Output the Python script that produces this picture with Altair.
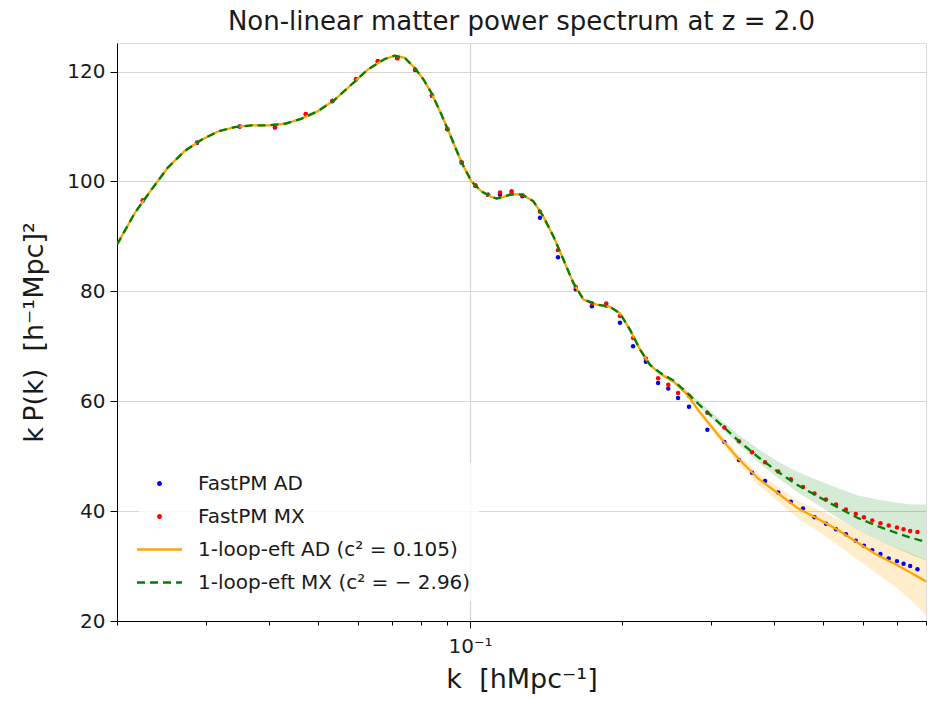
import altair as alt
import pandas as pd

# ---------------- data ----------------
K_THEORY = [0.0200, 0.0217, 0.0234, 0.0252, 0.0272, 0.0294, 0.0317, 0.0342, 0.0369, 0.0398,
            0.0430, 0.0463, 0.0500, 0.0540, 0.0582, 0.0628, 0.0678, 0.0710, 0.0743, 0.0778,
            0.0810, 0.0839, 0.0878, 0.0919, 0.0962, 0.1007, 0.1053, 0.1103, 0.1130, 0.1165,
            0.1201, 0.1240, 0.1275, 0.1335, 0.1398, 0.1463, 0.1531, 0.1603, 0.1678, 0.1783,
            0.1893, 0.1982, 0.2075, 0.2172, 0.2273, 0.2380, 0.2527, 0.2687, 0.2842, 0.3110,
            0.3404, 0.3725, 0.4078, 0.4462, 0.4884, 0.5345, 0.5850, 0.6403, 0.7008, 0.7500,
            0.8000]
PK_EFT_AD = [88.5, 94.3, 98.5, 102.5, 105.5, 107.6, 109.1, 109.9, 110.2, 110.2,
             110.5, 111.4, 112.8, 114.9, 117.6, 120.4, 122.3, 122.9, 122.5, 120.6,
             118.5, 116.1, 112.2, 107.9, 103.5, 100.0, 98.2, 97.2, 96.9, 97.2,
             97.6, 97.7, 97.5, 96.4, 93.6, 90.0, 85.8, 81.5, 78.5, 77.6,
             77.2, 76.0, 73.0, 69.4, 66.6, 65.0, 63.6, 61.3, 58.2, 53.7,
             49.5, 45.9, 43.2, 40.5, 38.6, 36.6, 34.3, 32.0, 30.2, 28.7,
             27.2]
PK_EFT_MX = [88.5, 94.3, 98.5, 102.5, 105.5, 107.6, 109.1, 109.9, 110.2, 110.2,
             110.5, 111.4, 112.8, 114.9, 117.6, 120.4, 122.3, 122.9, 122.5, 120.6,
             118.5, 116.1, 112.2, 107.9, 103.5, 100.0, 98.2, 97.2, 96.9, 97.2,
             97.6, 97.7, 97.5, 96.4, 93.6, 90.0, 85.8, 81.5, 78.5, 77.6,
             77.2, 76.0, 73.0, 69.4, 66.6, 65.2, 63.8, 61.6, 59.4, 56.1,
             52.8, 49.8, 47.1, 44.7, 42.7, 40.7, 38.8, 37.3, 36.0, 35.1,
             34.4]

K_BAND = [0.2380, 0.2527, 0.2687, 0.2842, 0.3110, 0.3404, 0.3725, 0.4078,
          0.4462, 0.4884, 0.5345, 0.5850, 0.6403, 0.7008, 0.7500, 0.8000]
AD_LO = [64.9, 63.4, 61.0, 57.7, 53.0, 48.6, 44.7, 41.7, 38.7, 36.4, 33.9, 31.2, 28.6, 26.0, 23.6, 21.0]
AD_HI = [65.1, 63.8, 61.6, 58.6, 54.3, 50.3, 46.9, 44.4, 41.9, 40.3, 38.6, 36.7, 34.8, 33.4, 32.3, 31.2]
MX_LO = [65.1, 63.6, 61.3, 59.0, 55.6, 52.1, 48.9, 46.0, 43.4, 41.1, 38.8, 36.6, 34.8, 33.2, 32.0, 31.0]
MX_HI = [65.3, 64.0, 62.0, 60.0, 56.9, 53.9, 51.3, 49.0, 47.1, 45.6, 44.2, 42.9, 42.1, 41.5, 41.2, 41.2]

K_DOTS = [0.0225, 0.0288, 0.0350, 0.0411, 0.0473, 0.0534, 0.0595, 0.0657, 0.0718, 0.0779,
          0.0841, 0.0902, 0.0963, 0.1025, 0.1086, 0.1147, 0.1209, 0.1270, 0.1376, 0.1494,
          0.1620, 0.1744, 0.1862, 0.1982, 0.2104, 0.2230, 0.2358, 0.2470, 0.2583,
          0.2715, 0.2952, 0.3190, 0.3410, 0.3620, 0.3840, 0.4078, 0.4319, 0.4566, 0.4812,
          0.5070, 0.5307, 0.5552, 0.5808, 0.6028, 0.6261, 0.6500, 0.6750, 0.7008, 0.7222,
          0.7443, 0.7694]
PK_FASTPM_AD = [96.5, 107.0, 110.0, 109.8, 112.2, 114.6, 118.6, 121.9, 122.5, 120.3,
                115.6, 109.5, 103.4, 99.2, 97.6, 97.6, 97.8, 97.3, 93.4, 86.2,
                80.4, 77.3, 77.4, 74.3, 70.0, 67.2, 63.3, 62.3, 60.6,
                59.0, 54.8, 52.6, 49.3, 47.0, 45.5, 43.4, 41.7, 40.5, 38.9,
                37.7, 36.7, 35.8, 34.6, 33.7, 32.9, 32.2, 31.4, 30.9, 30.4,
                30.0, 29.4]
PK_FASTPM_MX = [96.6, 107.1, 110.0, 109.9, 112.3, 114.7, 118.6, 121.9, 122.4, 120.4,
                115.7, 109.6, 103.5, 99.3, 97.6, 98.0, 98.2, 97.5, 94.5, 87.5,
                80.8, 77.8, 77.8, 75.5, 71.5, 67.8, 64.2, 63.0, 61.5,
                61.0, 57.9, 55.2, 52.7, 50.7, 48.9, 47.2, 45.8, 44.4, 43.2,
                42.1, 41.2, 40.3, 39.5, 38.9, 38.3, 37.8, 37.4, 37.0, 36.7,
                36.4, 36.2]

X_TICKS = [0.02, 0.03, 0.04, 0.05, 0.06, 0.07, 0.08, 0.09, 0.1,
           0.2, 0.3, 0.4, 0.5, 0.6, 0.7, 0.8]
Y_TICKS = [20, 40, 60, 80, 100, 120]
SERIES = ["FastPM AD", "FastPM MX", "1-loop-eft AD (c² = 0.105)", "1-loop-eft MX (c² = − 2.96)"]
COLORS = ["#0000ff", "#ff0000", "#ffa500", "#008000"]

FONT = "DejaVu Sans"
TEXT = "#1a1a1a"

# ---------------- tables ----------------
theory = pd.DataFrame({"k": K_THEORY, "ad": PK_EFT_AD, "mx": PK_EFT_MX})
band = pd.DataFrame({"k": K_BAND, "ad_lo": AD_LO, "ad_hi": AD_HI, "mx_lo": MX_LO, "mx_hi": MX_HI})
dots = pd.DataFrame({"k": K_DOTS, "ad": PK_FASTPM_AD, "mx": PK_FASTPM_MX})
leg = pd.DataFrame({"series": SERIES})

x_scale = alt.Scale(type="log", domain=[0.02, 0.8], nice=False)
y_scale = alt.Scale(domain=[20, 125.2], nice=False, zero=False)

x_axis = alt.Axis(
    values=X_TICKS,
    labelExpr="datum.value == 0.1 ? '10⁻¹' : ''",
    labelOverlap=False,
    labelFont=FONT, labelFontSize=20, labelColor=TEXT, labelPadding=8,
    title="k\u00a0\u00a0[hMpc⁻¹]", titleFont=FONT, titleFontSize=27, titleFontWeight="normal",
    titleColor=TEXT, titlePadding=10,
    grid=True, gridColor="#d6d6d6", gridWidth=1.2,
    gridOpacity={"condition": {"test": "datum.value == 0.1", "value": 1}, "value": 0},
    tickSize={"condition": {"test": "datum.value == 0.1", "value": 7}, "value": 4},
    tickColor="black", domainColor="black",
)
y_axis = alt.Axis(
    values=Y_TICKS,
    labelFont=FONT, labelFontSize=20, labelColor=TEXT, labelPadding=5,
    title="k\u2009P(k)\u00a0\u00a0[h⁻¹Mpc]²", titleFont=FONT, titleFontSize=27, titleFontWeight="normal",
    titleColor=TEXT, titlePadding=18,
    grid=True, gridColor="#d6d6d6", gridWidth=1.2,
    tickSize=7, tickColor="black", domainColor="black",
)

X = alt.X("k:Q", scale=x_scale, axis=x_axis)

band_ad = alt.Chart(band).mark_area(color="#ffa500", opacity=0.2, clip=True).encode(
    x=X, y=alt.Y("ad_lo:Q", scale=y_scale, axis=y_axis), y2="ad_hi:Q")
band_mx = alt.Chart(band).mark_area(color="#008000", opacity=0.16, clip=True).encode(
    x=X, y=alt.Y("mx_lo:Q", scale=y_scale, axis=y_axis), y2="mx_hi:Q")

pts_ad = alt.Chart(dots).mark_circle(color="#0000ff", size=20, opacity=1, clip=True).encode(
    x=X, y=alt.Y("ad:Q", scale=y_scale, axis=y_axis))
pts_mx = alt.Chart(dots).mark_circle(color="#ff0000", size=20, opacity=1, clip=True).encode(
    x=X, y=alt.Y("mx:Q", scale=y_scale, axis=y_axis))

line_ad = alt.Chart(theory).mark_line(color="#ffa500", strokeWidth=2.3, clip=True).encode(
    x=X, y=alt.Y("ad:Q", scale=y_scale, axis=y_axis))
line_mx = alt.Chart(theory).mark_line(color="#008000", strokeWidth=2.3, strokeDash=[8, 5], clip=True).encode(
    x=X, y=alt.Y("mx:Q", scale=y_scale, axis=y_axis))

DOT_PATH = "M-0.115,0A0.115,0.115,0,1,1,0.115,0A0.115,0.115,0,1,1,-0.115,0Z"
LINE_PATH = "M-2,0L2,0"
legend = alt.Legend(
    title=None, orient="none", legendX=22, legendY=420,
    labelFont=FONT, labelFontSize=20, labelColor=TEXT, labelOffset=26, labelLimit=600,
    symbolSize=506, symbolStrokeWidth=2.3, padding=8, rowPadding=10,
    fillColor="rgba(255,255,255,0.8)", symbolOpacity=1,
)
legend_layer = alt.Chart(leg).mark_point(filled=False, size=506, strokeWidth=2.3, clip=True).encode(
    x=alt.value(-300), y=alt.value(-300),
    color=alt.Color("series:N", scale=alt.Scale(domain=SERIES, range=COLORS), legend=legend),
    shape=alt.Shape("series:N", scale=alt.Scale(domain=SERIES, range=[DOT_PATH, DOT_PATH, LINE_PATH, LINE_PATH]), legend=legend),
    strokeDash=alt.StrokeDash("series:N", scale=alt.Scale(domain=SERIES, range=[[1, 0], [1, 0], [1, 0], [8, 5]]), legend=legend),
)

chart = alt.layer(band_ad, band_mx, pts_ad, pts_mx, line_ad, line_mx, legend_layer).properties(
    width=809, height=578,
    title=alt.TitleParams("Non-linear matter power spectrum at z = 2.0", font=FONT, fontSize=26,
                          fontWeight="normal", color=TEXT, anchor="middle", offset=8),
    autosize=alt.AutoSizeParams(type="none"),
    padding={"left": 117, "top": 43, "right": 12, "bottom": 80},
).configure_view(stroke="black", strokeWidth=1.2).configure(background="white")

chart.save("out.html", embed_options={"renderer": "svg", "actions": False})
